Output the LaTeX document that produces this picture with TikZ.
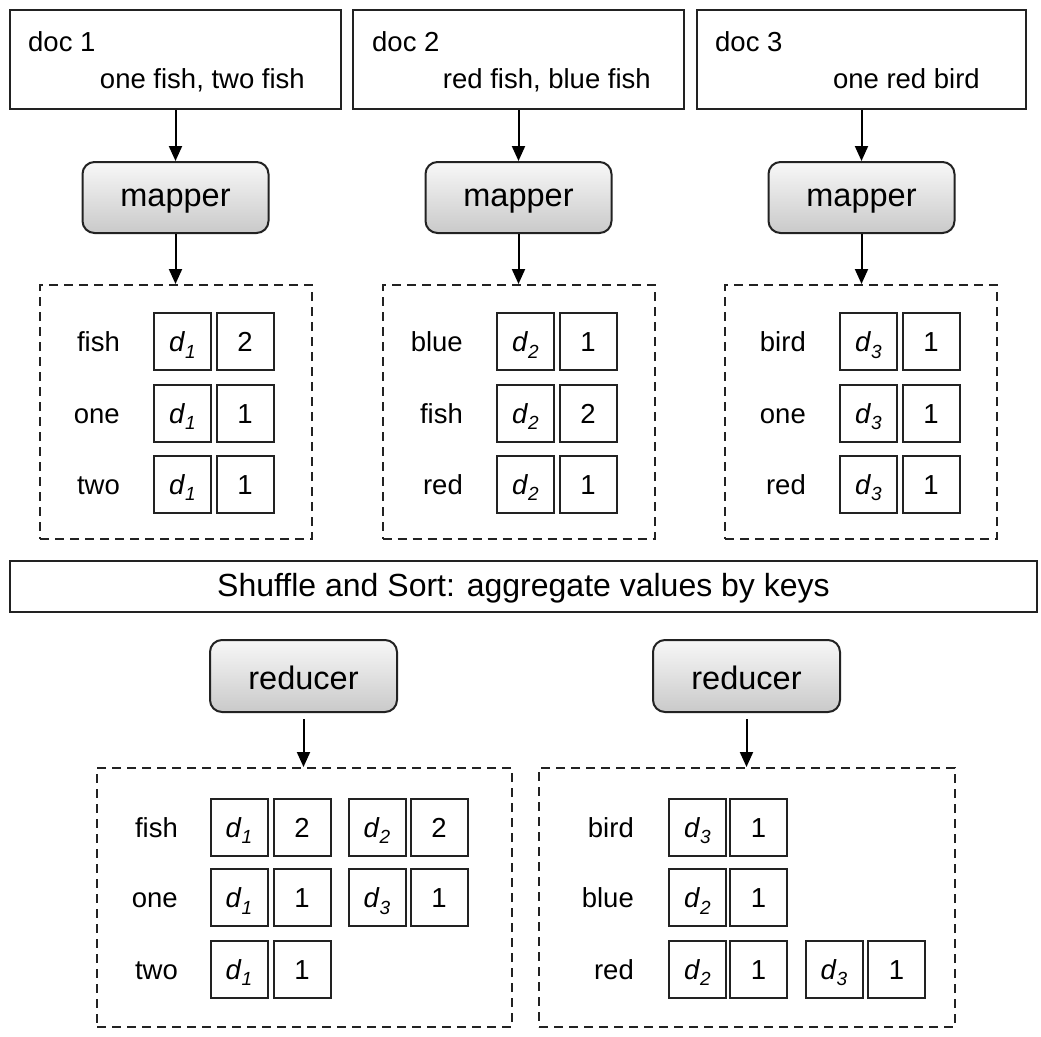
\documentclass[tikz,border=0pt]{standalone}
\usepackage{fontspec}
\setmainfont{Liberation Sans}
\usetikzlibrary{arrows.meta}
\definecolor{edge}{HTML}{222222}
\newcommand{\dsub}[1]{\textit{d}\raisebox{-0.45ex}{\fontsize{19}{19}\selectfont\itshape #1}}
\tikzset{
  txt/.style={font=\fontsize{27.5}{33}\selectfont, inner sep=0pt, text height=20pt, text depth=0pt},
  docbox/.style={draw=edge, line width=2pt, minimum width=331pt, minimum height=99pt, inner sep=0pt},
  procbox/.style={draw=edge, line width=2pt, rounded corners=12pt, top color=gray!6, bottom color=gray!42,
     minimum width=186pt, minimum height=71pt, font=\fontsize{32.5}{38}\selectfont, inner sep=0pt, text depth=0pt},
  dashbox/.style={draw=edge, line width=2pt, dash pattern=on 9pt off 6pt, minimum width=272pt, minimum height=254pt, inner sep=0pt},
  cell/.style={draw=edge, line width=2pt, minimum size=57pt, inner sep=0pt, font=\fontsize{27.5}{33}\selectfont,
     text height=20pt, text depth=0pt},
  lbl/.style={txt, anchor=east},
  arr/.style={-{Triangle[length=15pt,width=13pt]}, line width=2pt, draw=black},
}
\begin{document}
\begin{tikzpicture}[x=1pt,y=-1pt]
\useasboundingbox (0,0) rectangle (1041,1036);
% documents
\node[docbox] (doc1) at (175.5,59.5) {};
\node[docbox] (doc2) at (518.5,59.5) {};
\node[docbox, minimum width=329pt] (doc3) at (861.5,59.5) {};
\node[txt, anchor=west] (t1a) at (28,41) {doc 1};
\node[txt, anchor=east] (t1b) at (305,78) {one fish, two fish};
\node[txt, anchor=west] (t2a) at (372,41) {doc 2};
\node[txt, anchor=east] (t2b) at (651,78) {red fish, blue fish};
\node[txt, anchor=west] (t3a) at (715,41) {doc 3};
\node[txt, anchor=east] (t3b) at (980,78) {one red bird};
% mappers
\node[procbox, text height=17pt] (m1) at (175.5,197.5) {mapper};
\node[procbox, text height=17pt] (m2) at (518.5,197.5) {mapper};
\node[procbox, text height=17pt] (m3) at (861.5,197.5) {mapper};
% dashed outputs
\node[dashbox] (o1) at (176,412) {};
\node[dashbox] (o2) at (518.5,412) {};
\node[dashbox] (o3) at (861,412) {};
\draw[arr] (doc1.south -| m1) -- (m1.north);
\draw[arr] (doc2.south -| m2) -- (m2.north);
\draw[arr] (doc3.south -| m3) -- (m3.north);
\draw[arr] (m1.south) -- (m1.south |- o1.north);
\draw[arr] (m2.south) -- (m2.south |- o2.north);
\draw[arr] (m3.south) -- (m3.south |- o3.north);
% mapper 1 output
\node[lbl] (l11) at (120,341.5) {fish};
\node[lbl] (l12) at (120,413) {one};
\node[lbl] (l13) at (120,484) {two};
\node[cell] (c11a) at (182.5,341.5) {\dsub{1}};
\node[cell] (c11b) at (245,341.5) {2};
\node[cell] (c12a) at (182.5,413) {\dsub{1}};
\node[cell] (c12b) at (245,413) {1};
\node[cell] (c13a) at (182.5,484) {\dsub{1}};
\node[cell] (c13b) at (245,484) {1};
% mapper 2 output
\node[lbl] (l21) at (463,341.5) {blue};
\node[lbl] (l22) at (463,413) {fish};
\node[lbl] (l23) at (463,484) {red};
\node[cell] (c21a) at (525.5,341.5) {\dsub{2}};
\node[cell] (c21b) at (588,341.5) {1};
\node[cell] (c22a) at (525.5,413) {\dsub{2}};
\node[cell] (c22b) at (588,413) {2};
\node[cell] (c23a) at (525.5,484) {\dsub{2}};
\node[cell] (c23b) at (588,484) {1};
% mapper 3 output
\node[lbl] (l31) at (806,341.5) {bird};
\node[lbl] (l32) at (806,413) {one};
\node[lbl] (l33) at (806,484) {red};
\node[cell] (c31a) at (868.5,341.5) {\dsub{3}};
\node[cell] (c31b) at (931,341.5) {1};
\node[cell] (c32a) at (868.5,413) {\dsub{3}};
\node[cell] (c32b) at (931,413) {1};
\node[cell] (c33a) at (868.5,484) {\dsub{3}};
\node[cell] (c33b) at (931,484) {1};
% shuffle
\node[draw=edge, line width=2pt, minimum width=1027pt, minimum height=51pt, inner sep=0pt,
      font=\fontsize{32}{38}\selectfont, text height=19pt, text depth=0pt] (sh) at (523.5,586.5) {Shuffle and Sort: aggregate values by keys};
% reducers
\node[procbox, minimum width=187pt, minimum height=72pt, text height=26pt] (r1) at (303.5,676) {reducer};
\node[procbox, minimum width=187pt, minimum height=72pt, text height=26pt] (r2) at (746.5,676) {reducer};
\node[dashbox, minimum width=415pt, minimum height=259pt] (o4) at (304.5,897.5) {};
\node[dashbox, minimum width=416pt, minimum height=259pt] (o5) at (747,897.5) {};
\draw[arr, shorten <=6pt] (r1.south) -- (r1.south |- o4.north);
\draw[arr, shorten <=6pt] (r2.south) -- (r2.south |- o5.north);
% reducer 1 output
\node[lbl] (l41) at (178,827) {fish};
\node[lbl] (l42) at (178,897.5) {one};
\node[lbl] (l43) at (178,969) {two};
\node[cell] (c41a) at (239,827) {\dsub{1}};
\node[cell] (c41b) at (302,827) {2};
\node[cell] (c41c) at (377,827) {\dsub{2}};
\node[cell] (c41d) at (439,827) {2};
\node[cell] (c42a) at (239,897.5) {\dsub{1}};
\node[cell] (c42b) at (302,897.5) {1};
\node[cell] (c42c) at (377,897.5) {\dsub{3}};
\node[cell] (c42d) at (439,897.5) {1};
\node[cell] (c43a) at (239,969) {\dsub{1}};
\node[cell] (c43b) at (302,969) {1};
% reducer 2 output
\node[lbl] (l51) at (634,827) {bird};
\node[lbl] (l52) at (634,897.5) {blue};
\node[lbl] (l53) at (634,969) {red};
\node[cell] (c51a) at (697.5,827) {\dsub{3}};
\node[cell] (c51b) at (758.5,827) {1};
\node[cell] (c52a) at (697.5,897.5) {\dsub{2}};
\node[cell] (c52b) at (758.5,897.5) {1};
\node[cell] (c53a) at (697.5,969) {\dsub{2}};
\node[cell] (c53b) at (758.5,969) {1};
\node[cell] (c53c) at (834,969) {\dsub{3}};
\node[cell] (c53d) at (896.5,969) {1};
\end{tikzpicture}
\end{document}
